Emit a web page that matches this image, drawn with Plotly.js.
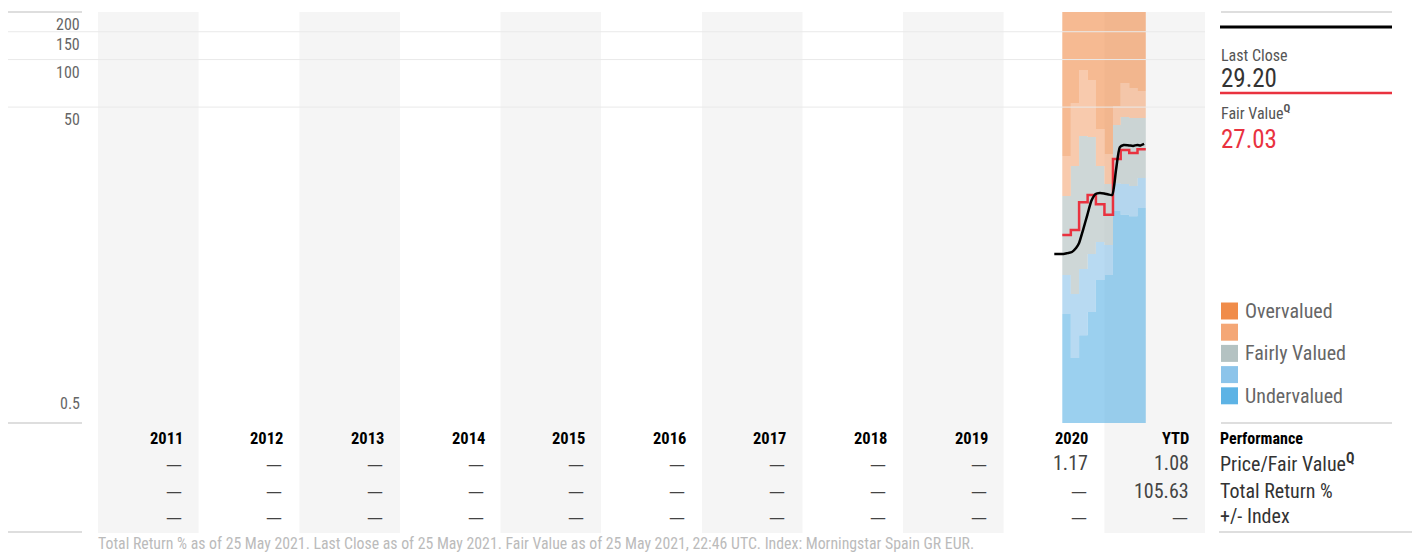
<!DOCTYPE html>
<html>
<head>
<meta charset="utf-8">
<script src="https://cdn.plot.ly/plotly-3.0.1.min.js"></script>
<style>
  html, body { margin: 0; padding: 0; background: #fff; }
  #chart { width: 1412px; height: 552px; }
</style>
</head>
<body>
<div id="chart"></div>
<script>
// ---------- data ----------
const years = ['2011','2012','2013','2014','2015','2016','2017','2018','2019','2020','YTD'];
const yearStarts = ['2011-01-01','2012-01-01','2013-01-01','2014-01-01','2015-01-01','2016-01-01','2017-01-01','2018-01-01','2019-01-01','2020-01-01','2021-01-01','2022-01-01'];

const priceFairValue = [null,null,null,null,null,null,null,null,null,1.17,1.08];
const totalReturn    = [null,null,null,null,null,null,null,null,null,null,105.63];
const plusMinusIndex = [null,null,null,null,null,null,null,null,null,null,null];

const bandDates = ['2020-08-01','2020-09-01','2020-10-01','2020-11-01','2020-12-01','2021-01-01','2021-02-01','2021-03-01','2021-04-01','2021-05-01','2021-05-31'];
const undervaluedTop = [2.45, 1.29, 1.80, 2.52, 4.02, 4.32, 11.0, 10.4, 10.2, 11.5];
const fairLow        = [4.32, 3.28, 4.72, 5.87, 7.00, 6.70, 16.5, 16.3, 15.8, 17.8];
const fairHigh       = [13.7, 21.2, 32.8, 32.3, 21.2, 16.3, 38.5, 43.3, 42.7, 42.7];
const overvaluedLow  = [24.5, 53.1, 85.9, 74.2, 36.3, 25.2, 50.8, 71.0, 66.0, 63.2];
const fairValue      = [7.74, 8.34, 12.5, 13.9, 12.14, 10.4, 23.5, 26.8, 25.6, 27.03];

const priceDates = ['2020-07-03','2020-07-20','2020-08-05','2020-08-20','2020-09-05','2020-09-20','2020-10-01','2020-10-15','2020-10-31','2020-11-15','2020-11-30','2020-12-15','2020-12-31','2021-01-15','2021-01-29','2021-02-12','2021-02-26','2021-03-12','2021-03-31','2021-04-15','2021-04-30','2021-05-12','2021-05-25'];
const priceValues = [5.87, 5.87, 5.87, 5.95, 6.05, 6.41, 6.9, 8.3, 10.4, 12.8, 14.1, 14.3, 14.2, 14.0, 13.9, 20.0, 27.9, 28.8, 28.6, 28.4, 28.8, 28.6, 29.2];

const lastClose = '29.20';
const fairValueLast = '27.03';

const tickVals = [0.5, 50, 100, 150, 200];
const tickText = ['0.5', '50', '100', '150', '200'];

const legendLabels = ['Overvalued', '', 'Fairly Valued', '', 'Undervalued'];
const legendColors = ['#f08c4a', '#f4a776', '#b4c2c2', '#8cc4ea', '#5db3e5'];
const bandFills = ['rgba(93,179,229,0.62)','rgba(140,196,234,0.62)','rgba(180,194,194,0.65)','rgba(244,167,118,0.6)','rgba(240,140,74,0.6)'];

const footer = 'Total Return % as of 25 May 2021. Last Close as of 25 May 2021. Fair Value as of 25 May 2021, 22:46 UTC. Index: Morningstar Spain GR EUR.';

// ---------- layout helpers ----------
const W = 1412, H = 552, L = 98, R = 207, T = 12, B = 129;
const PW = W - L - R, PH = H - T - B;
const px = xp => (xp - L) / PW;
const py = yp => (H - B - yp) / PH;
const FONT = '"Roboto Condensed", "Liberation Sans Narrow", "Arial Narrow", Roboto, sans-serif';
const DASHFONT = '"DejaVu Sans", sans-serif';

function stepExt(arr) { return arr.concat([arr[arr.length - 1]]); }

// ---------- traces ----------
const bounds = [bandDates.map(() => 0.05), stepExt(undervaluedTop), stepExt(fairLow), stepExt(fairHigh), stepExt(overvaluedLow), bandDates.map(() => 5000)];
const traces = [];
bounds.forEach((b, i) => {
  traces.push({
    x: bandDates, y: b, type: 'scatter', mode: 'lines',
    line: { shape: 'hv', width: 0 },
    fill: i === 0 ? 'none' : 'tonexty',
    fillcolor: i === 0 ? 'rgba(0,0,0,0)' : bandFills[i - 1],
    hoverinfo: 'skip', showlegend: false
  });
});
traces.push({
  x: bandDates, y: stepExt(fairValue), type: 'scatter', mode: 'lines',
  line: { shape: 'hv', width: 2.5, color: '#e9323f' }, showlegend: false, hoverinfo: 'skip'
});
traces.push({
  x: priceDates, y: priceValues, type: 'scatter', mode: 'lines',
  line: { shape: 'spline', smoothing: 0.6, width: 2.5, color: '#000' }, showlegend: false, hoverinfo: 'skip'
});

// ---------- shapes ----------
const shapes = [];
const tableBottom = py(533);
years.forEach((y, i) => {
  if (i % 2 === 0) {
    shapes.push({ type: 'rect', xref: 'x', yref: 'paper', x0: yearStarts[i], x1: yearStarts[i + 1], y0: tableBottom, y1: 1,
      fillcolor: '#f5f5f5', line: { width: 0 }, layer: 'below' });
  }
});
const yMin = Math.min(...tickVals), yMax = Math.max(...tickVals);
tickVals.forEach(v => {
  if (v !== yMin && v !== yMax) {
    shapes.push({ type: 'line', xref: 'paper', yref: 'y', x0: px(8), x1: 1, y0: v, y1: v,
      line: { color: '#e9e9e9', width: 1 }, layer: 'above' });
  }
});
function hline(x0, x1, yp, color, w) {
  shapes.push({ type: 'line', xref: 'paper', yref: 'paper', x0: px(x0), x1: px(x1), y0: py(yp), y1: py(yp), line: { color: color, width: w } });
}
hline(8, 82, 12, '#bdbdbd', 1.2);
hline(8, 82, 423, '#bdbdbd', 1.2);
hline(8, 82, 532, '#bdbdbd', 1.2);
hline(1221, 1392, 12, '#bdbdbd', 1.2);
hline(1221, 1392, 423, '#bdbdbd', 1.2);
hline(1219, 1412, 532, '#bdbdbd', 1.2);
hline(1220, 1392, 27, '#000000', 3);
hline(1220, 1392, 93, '#e9323f', 2.5);

legendColors.forEach((c, i) => {
  const yc = 311 + i * 21.2;
  shapes.push({ type: 'rect', xref: 'paper', yref: 'paper', x0: px(1221), x1: px(1238), y0: py(yc + 8.5), y1: py(yc - 8.5),
    fillcolor: c, line: { width: 0 } });
});

// ---------- annotations ----------
const ann = [];
function txt(text, xp, yp, size, color, anchor, extra) {
  ann.push(Object.assign({ text: text, xref: 'paper', yref: 'paper', x: px(xp), y: py(yp), xanchor: anchor || 'left', yanchor: 'middle',
    showarrow: false, font: { family: FONT, size: size, color: color } }, extra || {}));
}
// y tick labels
tickVals.forEach((v, i) => {
  ann.push({ text: tickText[i], xref: 'paper', yref: 'y', x: px(82), y: Math.log10(v), xanchor: 'right',
    yanchor: v === yMin ? 'bottom' : 'top', yshift: v === yMin ? 8 : -1, showarrow: false,
    font: { family: FONT, size: 16, color: '#666' } });
});
// table
const rowsY = [463, 491, 516];
const rows = [priceFairValue, totalReturn, plusMinusIndex];
years.forEach((y, i) => {
  ann.push({ text: '<b>' + y + '</b>', xref: 'x', yref: 'paper', x: yearStarts[i + 1], y: py(438), xanchor: 'right', yanchor: 'middle',
    xshift: -14, showarrow: false, font: { family: FONT, size: 16.5, color: '#000' } });
  rows.forEach((r, k) => {
    const v = r[i];
    const isDash = v === null;
    ann.push({ text: isDash ? '—' : v.toFixed(2), xref: 'x', yref: 'paper', x: yearStarts[i + 1], y: py(rowsY[k] + (isDash ? 1 : 0)), xanchor: 'right', yanchor: 'middle',
      xshift: isDash ? -15 : -14, showarrow: false,
      font: { family: isDash ? DASHFONT : FONT, size: isDash ? 16 : 20, color: '#444' } });
  });
});
txt('<b>Performance</b>', 1218, 438, 16, '#000');
txt('Price/Fair Value<sup><b>Q</b></sup>', 1218, 463, 20, '#333');
txt('Total Return %', 1218, 491, 20, '#333');
txt('+/- Index', 1218, 516, 20, '#333');
// right panel
txt('Last Close', 1219, 56, 16, '#555');
txt(lastClose, 1219, 78, 25, '#333');
txt('Fair Value<sup><b>Q</b></sup>', 1219, 112, 16, '#555');
txt(fairValueLast, 1219, 139, 25, '#e9323f');
// legend
legendLabels.forEach((l, i) => {
  if (l) txt(l, 1243, 311 + i * 21.2, 20, '#666');
});
// footer
txt(footer, 96, 543, 15.8, '#bbbbbb');

const layout = {
  width: W, height: H,
  margin: { l: L, r: R, t: T, b: B, pad: 0 },
  paper_bgcolor: '#fff', plot_bgcolor: 'rgba(0,0,0,0)',
  showlegend: false,
  xaxis: { type: 'date', range: [yearStarts[0], yearStarts[yearStarts.length - 1]], showgrid: false, zeroline: false,
    showticklabels: false, ticks: '', showline: false, fixedrange: true },
  yaxis: { type: 'log', range: [Math.log10(yMin), Math.log10(yMax)], showgrid: false, zeroline: false,
    showticklabels: false, ticks: '', showline: false, fixedrange: true },
  shapes: shapes,
  annotations: ann
};

Plotly.newPlot('chart', traces, layout, { displayModeBar: false, staticPlot: true });
</script>
</body>
</html>
